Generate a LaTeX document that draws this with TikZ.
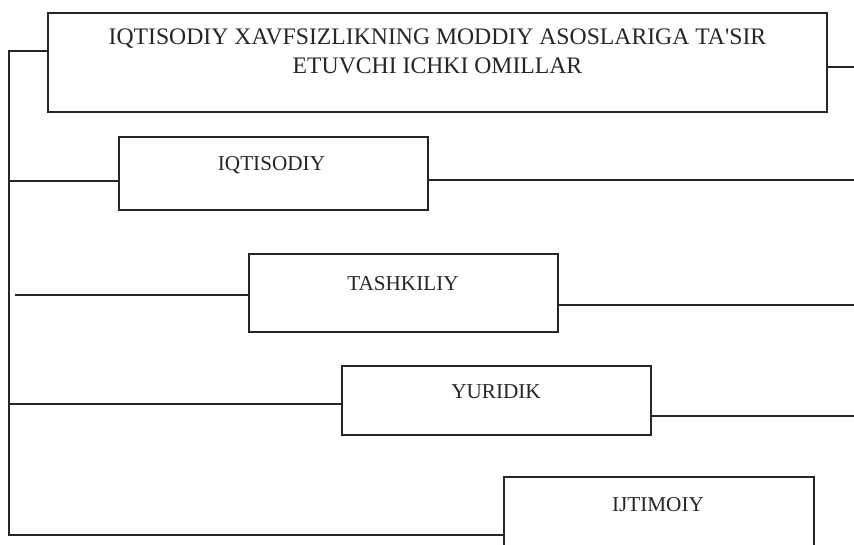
\documentclass[tikz,border=0pt]{standalone}
\usepackage{fontspec}
\setmainfont{Liberation Serif}
\begin{document}
\begin{tikzpicture}[x=1pt,y=-1pt,
  box/.style={draw=black!85, line width=1.3pt, rectangle, inner sep=0pt},
  lbl/.style={anchor=base, inner sep=0pt, text=black!85, font=\fontsize{21.2}{25}\selectfont},
  ttl/.style={anchor=base, inner sep=0pt, text=black!85, font=\fontsize{23.7}{29}\selectfont},
  conn/.style={draw=black!85, line width=1.3pt}]
\useasboundingbox (0,0) rectangle (854,544);
\clip (0,0) rectangle (854,544);
% boxes
\node[box, minimum width=779pt, minimum height=99pt] (b1) at (437.5,62.5) {};
\node[box, minimum width=309pt, minimum height=73pt] (b2) at (273.5,173.5) {};
\node[box, minimum width=309pt, minimum height=78pt] (b3) at (403.5,293) {};
\node[box, minimum width=309pt, minimum height=69pt] (b4) at (496.5,400.5) {};
\node[box, minimum width=310pt, minimum height=83pt] (b5) at (659,518.5) {};
% texts
\node[ttl] (t1a) at (437.5,44.3) {IQTISODIY XAVFSIZLIKNING MODDIY ASOSLARIGA TA\textquotesingle SIR};
\node[ttl] (t1b) at (437.5,73.3) {ETUVCHI ICHKI OMILLAR};
\node[lbl] (t2) at (271.5,170.7) {IQTISODIY};
\node[lbl] (t3) at (403,290) {TASHKILIY};
\node[lbl] (t4) at (496,398.5) {YURIDIK};
\node[lbl] (t5) at (658,511.5) {IJTIMOIY};
% free ends
\coordinate (L1) at (9,51);
\coordinate (L2) at (9,181);
\coordinate (L3) at (15,295);
\coordinate (L4) at (9,404);
\coordinate (L5) at (9,535);
\coordinate (R1) at (854,67);
\coordinate (R2) at (854,180);
\coordinate (R3) at (854,305);
\coordinate (R4) at (854,416);
% connectors
\draw[conn] (b1.west |- L1) -- (L1) -- (L5) -- (b5.west |- L5);
\draw[conn] (L2) -- (b2.west |- L2);
\draw[conn] (L3) -- (b3.west |- L3);
\draw[conn] (L4) -- (b4.west |- L4);
\draw[conn] (b1.east |- R1) -- (R1);
\draw[conn] (b2.east |- R2) -- (R2);
\draw[conn] (b3.east |- R3) -- (R3);
\draw[conn] (b4.east |- R4) -- (R4);
\end{tikzpicture}
\end{document}
